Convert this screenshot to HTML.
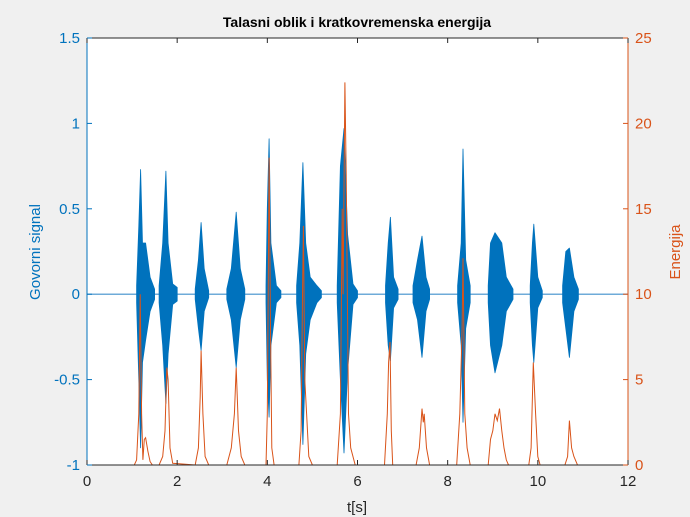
<!DOCTYPE html>
<html><head><meta charset="utf-8"><style>
html,body{margin:0;padding:0;background:#f0f0f0;}
svg{display:block;font-family:"Liberation Sans",Arial,sans-serif;}
</style></head><body>
<svg id="chart" width="690" height="517" viewBox="0 0 690 517">
<rect x="0" y="0" width="690" height="517" fill="#f0f0f0"/>
<rect x="87" y="38" width="541" height="427" fill="#ffffff"/>
<text x="357" y="27" text-anchor="middle" font-size="14" font-weight="bold" fill="#000">Talasni oblik i kratkovremenska energija</text>
<g id="wave"></g>
<g id="energy"></g>
<g id="axes"></g>
<text x="357" y="512" text-anchor="middle" font-size="15" fill="#262626">t[s]</text>
<text transform="translate(40,252) rotate(-90)" text-anchor="middle" font-size="15" fill="#0072BD">Govorni signal</text>
<text transform="translate(680,252) rotate(-90)" text-anchor="middle" font-size="15" fill="#D95319">Energija</text>
</svg>
<script>
// Waveform envelopes per burst: times, upper and lower amplitude
const burstTimes = [
 [1.1,1.15,1.19,1.23,1.3,1.4,1.5],
 [1.6,1.68,1.75,1.8,1.9,2.0],
 [2.4,2.47,2.53,2.6,2.7],
 [3.1,3.2,3.31,3.4,3.5],
 [3.97,4.0,4.04,4.08,4.2,4.3],
 [4.65,4.72,4.79,4.85,4.95,5.1,5.2],
 [5.55,5.62,5.7,5.78,5.9,6.0],
 [6.62,6.68,6.73,6.8,6.9],
 [7.23,7.33,7.43,7.52,7.6],
 [8.22,8.3,8.34,8.4,8.5],
 [8.9,8.95,9.05,9.2,9.3,9.45],
 [9.83,9.88,9.91,10.0,10.1],
 [10.55,10.62,10.7,10.8,10.9]
];
const burstMax = [
 [0.05,0.4,0.73,0.3,0.3,0.1,0.03],
 [0.05,0.3,0.72,0.3,0.06,0.04],
 [0.03,0.2,0.42,0.15,0.02],
 [0.03,0.15,0.48,0.15,0.03],
 [0.05,0.5,0.91,0.3,0.05,0.02],
 [0.05,0.3,0.77,0.3,0.1,0.05,0.02],
 [0.05,0.75,0.97,0.35,0.06,0.02],
 [0.05,0.3,0.45,0.1,0.03],
 [0.05,0.2,0.34,0.1,0.03],
 [0.05,0.3,0.85,0.2,0.05],
 [0.05,0.3,0.36,0.3,0.1,0.03],
 [0.05,0.3,0.41,0.1,0.02],
 [0.05,0.25,0.27,0.1,0.03]
];
const burstMin = [
 [-0.05,-0.5,-0.9,-0.4,-0.27,-0.1,-0.03],
 [-0.05,-0.3,-0.64,-0.35,-0.06,-0.04],
 [-0.03,-0.2,-0.33,-0.1,-0.02],
 [-0.03,-0.15,-0.43,-0.15,-0.03],
 [-0.05,-0.5,-0.72,-0.3,-0.05,-0.02],
 [-0.05,-0.3,-0.88,-0.35,-0.15,-0.05,-0.02],
 [-0.05,-0.5,-0.93,-0.45,-0.06,-0.02],
 [-0.05,-0.3,-0.39,-0.08,-0.03],
 [-0.05,-0.15,-0.37,-0.1,-0.03],
 [-0.05,-0.3,-0.75,-0.2,-0.05],
 [-0.05,-0.3,-0.46,-0.3,-0.1,-0.03],
 [-0.05,-0.3,-0.4,-0.08,-0.02],
 [-0.05,-0.2,-0.37,-0.1,-0.03]
];
// Short-time energy
const energyT = [0,1.05,1.1,1.15,1.18,1.21,1.24,1.27,1.3,1.35,1.4,1.45,
 1.6,1.68,1.73,1.77,1.8,1.84,1.9,
 2.4,2.47,2.51,2.53,2.57,2.62,2.7,
 3.1,3.2,3.27,3.31,3.36,3.42,3.5,
 3.97,4.0,4.02,4.04,4.07,4.1,4.15,
 4.7,4.75,4.78,4.8,4.83,4.87,4.92,5.0,
 5.55,5.62,5.66,5.68,5.72,5.75,5.8,5.85,5.95,
 6.6,6.66,6.69,6.72,6.75,6.78,
 7.3,7.37,7.43,7.46,7.48,7.53,7.6,
 8.2,8.27,8.32,8.34,8.38,8.43,8.5,
 8.9,8.95,9.0,9.05,9.1,9.15,9.2,9.25,9.3,9.35,
 9.8,9.85,9.9,9.95,10.0,10.05,
 10.6,10.66,10.7,10.75,10.8,10.88,12];
const energyV = [0,0,0.3,3,10,3,0.3,1.5,1.6,0.8,0.2,0,
 0,0.5,2,5.7,5,1,0.1,
 0,1,4,6.7,3,0.5,0,
 0,1,3,5.7,2,0.5,0,
 0,3,10,18,8,1,0,
 0,2,10,14,5,3,0.5,0,
 0,3,15,10,22.4,17,3,1,0,
 0,3,6,7.2,2,0,
 0,1,3.3,2.5,3,1,0,
 0,3,8,12.1,3,1,0,
 0,1.5,2,3,2.6,3.3,2,1,0.3,0,
 0,1,6,3,0.5,0,
 0,0.5,2.6,1,0.5,0,0];
const xTicks = [0,2,4,6,8,10,12];
const yLeftTicks = [-1,-0.5,0,0.5,1,1.5];
const yLeftLabels = ["-1","-0.5","0","0.5","1","1.5"];
const yRightTicks = [0,5,10,15,20,25];

const X0=87,X1=628,Y0=465,Y1=38;
const sx=t=>X0+(t/12)*(X1-X0);
const syL=v=>Y0-(v+1)/2.5*(Y0-Y1);
const syR=v=>Y0-v/25*(Y0-Y1);
const NS="http://www.w3.org/2000/svg";
function mk(tag,attrs,parent){const e=document.createElementNS(NS,tag);for(const k in attrs)e.setAttribute(k,attrs[k]);parent.appendChild(e);return e;}

const wave=document.getElementById('wave');
const base=mk('line',{x1:sx(0),x2:sx(12),y1:syL(0),y2:syL(0),stroke:'#3f8fcc','stroke-width':1.2},wave);


for(let i=0;i<burstTimes.length;i++){
  const ts=burstTimes[i];let pts=[];
  for(let j=0;j<ts.length;j++)pts.push(sx(ts[j]).toFixed(1)+','+syL(burstMax[i][j]).toFixed(1));
  for(let j=ts.length-1;j>=0;j--)pts.push(sx(ts[j]).toFixed(1)+','+syL(burstMin[i][j]).toFixed(1));
  const p=mk('polygon',{points:pts.join(' '),fill:'#0072BD',stroke:'#0072BD','stroke-width':0.8,'stroke-linejoin':'round'},wave);
  
  
}
const en=document.getElementById('energy');
const ep=mk('polyline',{points:energyT.map((t,i)=>sx(t).toFixed(1)+','+syR(energyV[i]).toFixed(1)).join(' '),fill:'none',stroke:'#D95319','stroke-width':1},en);



const ax=document.getElementById('axes');
const b1=mk('line',{x1:X0,x2:X1,y1:Y0,y2:Y0,stroke:'#262626','stroke-width':1},ax);


const b2=mk('line',{x1:X0,x2:X1,y1:Y1,y2:Y1,stroke:'#262626','stroke-width':1},ax);


const b3=mk('line',{x1:X0,x2:X0,y1:Y0,y2:Y1,stroke:'#0072BD','stroke-width':1},ax);


const b4=mk('line',{x1:X1,x2:X1,y1:Y0,y2:Y1,stroke:'#D95319','stroke-width':1},ax);


xTicks.forEach(t=>{
  const x=sx(t);
  mk('line',{x1:x,x2:x,y1:Y0,y2:Y0-5,stroke:'#262626'},ax);
  mk('line',{x1:x,x2:x,y1:Y1,y2:Y1+5,stroke:'#262626'},ax);
  const l=mk('text',{x:x,y:Y0+21,'text-anchor':'middle','font-size':15,fill:'#262626'},ax);
  l.textContent=t;
  
  
});
yLeftTicks.forEach((v,i)=>{
  const y=syL(v);
  mk('line',{x1:X0,x2:X0+5,y1:y,y2:y,stroke:'#0072BD'},ax);
  const l=mk('text',{x:X0-7,y:y+5,'text-anchor':'end','font-size':15,fill:'#0072BD'},ax);
  l.textContent=yLeftLabels[i];
  
  
});
yRightTicks.forEach(v=>{
  const y=syR(v);
  mk('line',{x1:X1,x2:X1-5,y1:y,y2:y,stroke:'#D95319'},ax);
  const l=mk('text',{x:X1+7,y:y+5,'text-anchor':'start','font-size':15,fill:'#D95319'},ax);
  l.textContent=v;
  
  
});
</script>
</body></html>
